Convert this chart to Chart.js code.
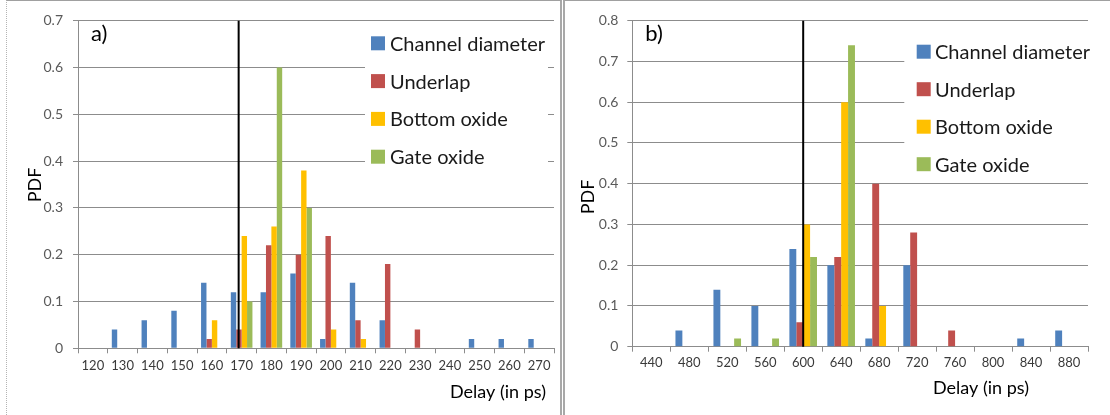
<!DOCTYPE html>
<html>
<head>
<meta charset="utf-8">
<title>Delay PDF</title>
<script src="https://cdn.jsdelivr.net/npm/chart.js@4.4.1/dist/chart.umd.min.js"></script>
<style>
  body { margin: 0; background: #fff; width: 1110px; height: 415px; position: relative; overflow: hidden; font-family: Lato, sans-serif; }
  .frame { position: absolute; top: 0; height: 415px; box-sizing: border-box; border-top: 1px solid #a0a0a0; }
  #frameA { left: 6px; width: 556px; border-left: 1px dotted #b4b4b4; border-right: 2px solid #a8a8a8; }
  #frameB { left: 563px; width: 547px; border-left: 2px solid #a8a8a8; }
  canvas { position: absolute; top: 2px; }
  #chartA { left: 8px; }
  #chartB { left: 566px; }
</style>
</head>
<body>
<div class="frame" id="frameA"></div>
<div class="frame" id="frameB"></div>
<canvas id="chartA" width="550" height="411"></canvas>
<canvas id="chartB" width="542" height="411"></canvas>

<script>
var seriesNames = ["Channel diameter", "Underlap", "Bottom oxide", "Gate oxide"];
var seriesColors = ['#4F81BD', '#C0504D', '#FFC000', '#9BBB59'];

// a) delay bins (ps) and PDF per parameter
var delayA = [120, 130, 140, 150, 160, 170, 180, 190, 200, 210, 220, 230, 240, 250, 260, 270];
var channelA = [0, 0.04, 0.06, 0.08, 0.14, 0.12, 0.12, 0.16, 0.02, 0.14, 0.06, 0, 0, 0.02, 0.02, 0.02];
var underlapA = [0, 0, 0, 0, 0.02, 0.04, 0.22, 0.20, 0.24, 0.06, 0.18, 0.04, 0, 0, 0, 0];
var bottomA = [0, 0, 0, 0, 0.06, 0.24, 0.26, 0.38, 0.04, 0.02, 0, 0, 0, 0, 0, 0];
var gateA = [0, 0, 0, 0, 0, 0.10, 0.60, 0.30, 0, 0, 0, 0, 0, 0, 0, 0];
var nominalA = 169;
var pdfMaxA = 0.7;

// b)
var delayB = [440, 480, 520, 560, 600, 640, 680, 720, 760, 800, 840, 880];
var channelB = [0, 0.04, 0.14, 0.10, 0.24, 0.20, 0.02, 0.20, 0, 0, 0.02, 0.04];
var underlapB = [0, 0, 0, 0, 0.06, 0.22, 0.40, 0.28, 0.04, 0, 0, 0];
var bottomB = [0, 0, 0, 0, 0.30, 0.60, 0.10, 0, 0, 0, 0, 0];
var gateB = [0, 0, 0.02, 0.02, 0.22, 0.74, 0, 0, 0, 0, 0, 0];
var nominalB = 600;
var pdfMaxB = 0.8;

var pdfStep = 0.1;
var gridGray = '#8c8c8c';

// draws panel label, nominal delay line, axis titles and the boxed legend
var decorPlugin = {
  id: 'decor',
  afterDraw: function(chart, args, opts) {
    var ctx = chart.ctx;
    var area = chart.chartArea;
    var xs = chart.scales.x;
    var cats = chart.data.labels;

    // nominal delay line
    var idx = (opts.nominal - cats[0]) / (cats[1] - cats[0]);
    var lx = xs.getPixelForValue(idx);
    ctx.save();
    ctx.strokeStyle = '#000';
    ctx.lineWidth = 2;
    ctx.beginPath();
    ctx.moveTo(lx, area.top);
    ctx.lineTo(lx, area.bottom);
    ctx.stroke();

    // legend
    var lg = opts.legend;
    ctx.fillStyle = '#fff';
    ctx.fillRect(area.left + lg.x, area.top + lg.y, lg.w, lg.h);
    ctx.font = '20px Lato';
    ctx.textBaseline = 'middle';
    ctx.textAlign = 'left';
    chart.data.datasets.forEach(function(ds, i) {
      var cy = area.top + lg.row0 + i * lg.rowGap;
      ctx.fillStyle = ds.backgroundColor;
      ctx.fillRect(area.left + lg.boxX, cy - 7, 14, 14);
      ctx.fillStyle = '#1a1a1a';
      ctx.fillText(ds.label, area.left + lg.textX, cy + 1);
    });

    // panel label
    ctx.fillStyle = '#000';
    ctx.font = '22px Lato';
    ctx.fillText(opts.panel, area.left + 13, area.top + 13);

    // axis titles
    ctx.font = '18px Lato';
    ctx.fillStyle = '#000';
    ctx.fillText('Delay (in ps)', opts.xTitle[0], opts.xTitle[1]);
    ctx.translate(opts.yTitle[0], opts.yTitle[1]);
    ctx.rotate(-Math.PI / 2);
    ctx.textAlign = 'center';
    ctx.fillText('PDF', 0, 0);
    ctx.restore();
  }
};

function makeChart(id, labels, values, pdfMax, decor, yWidth, pad, xPad, yPad) {
  var datasets = values.map(function(v, i) {
    return {
      label: seriesNames[i],
      data: v,
      backgroundColor: seriesColors[i],
      borderWidth: 0,
      categoryPercentage: 0.727,
      barPercentage: 1.0
    };
  });
  return new Chart(document.getElementById(id).getContext('2d'), {
    type: 'bar',
    data: { labels: labels, datasets: datasets },
    plugins: [decorPlugin],
    options: {
      responsive: false,
      animation: false,
      devicePixelRatio: 1,
      layout: { padding: pad },
      plugins: {
        legend: { display: false },
        tooltip: { enabled: false },
        decor: decor
      },
      scales: {
        x: {
          afterFit: function(s) { s.height = 60; },
          grid: { display: true, drawOnChartArea: false, offset: true, color: gridGray, tickLength: 5 },
          border: { color: gridGray, width: 1 },
          ticks: { color: '#3a3a3a', font: { family: 'Lato', size: 13 }, padding: xPad, maxRotation: 0, autoSkip: false }
        },
        y: {
          min: 0,
          max: pdfMax,
          afterFit: function(s) { s.width = yWidth; },
          grid: { color: gridGray, tickLength: 5 },
          border: { color: gridGray, width: 1 },
          ticks: { stepSize: pdfStep, color: '#5a5a5a', font: { family: 'Lato', size: 14 }, padding: yPad }
        }
      }
    }
  });
}

var chartA = makeChart('chartA', delayA, [channelA, underlapA, bottomA, gateA], pdfMaxA, {
  panel: 'a)',
  nominal: nominalA,
  legend: { x: 287, y: 4, w: 183, h: 150, boxX: 293, textX: 312, row0: 22.6, rowGap: 37.8 },
  xTitle: [442, 390],
  yTitle: [27, 183]
}, 70, { top: 18.7, right: 4, bottom: 4.7, left: 0 }, 5, 10);

var chartB = makeChart('chartB', delayB, [channelB, underlapB, bottomB, gateB], pdfMaxB, {
  panel: 'b)',
  nominal: nominalB,
  legend: { x: 272, y: 9, w: 190, h: 150, boxX: 284.4, textX: 302.7, row0: 31, rowGap: 37.5 },
  xTitle: [367, 386],
  yTitle: [22, 195]
}, 66.3, { top: 18.7, right: 20, bottom: 6.3, left: 0 }, 3.5, 9);
</script>
</body>
</html>
